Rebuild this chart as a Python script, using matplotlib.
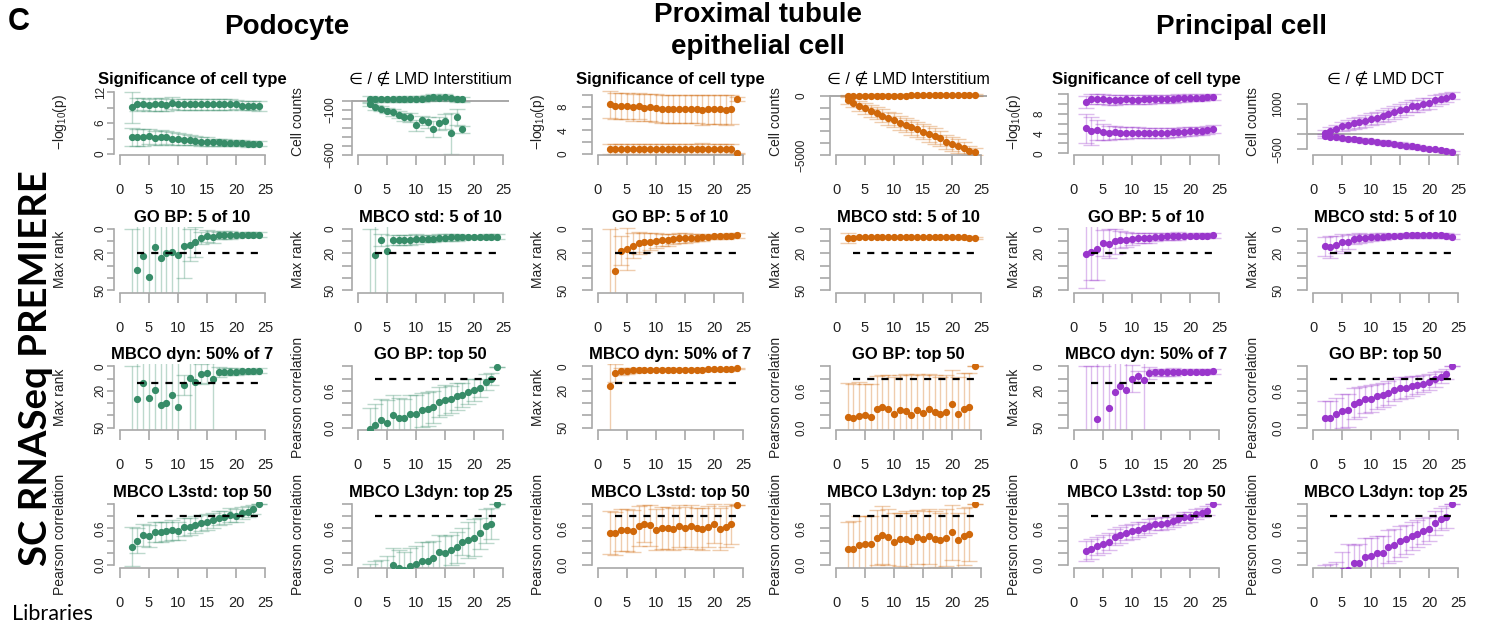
import matplotlib
matplotlib.use("Agg")
import matplotlib.pyplot as plt
import matplotlib.colors as mcolors

plt.rcParams['font.family'] = ['Liberation Sans', 'DejaVu Sans']
plt.rcParams['mathtext.default'] = 'regular'

# ---------------- data ----------------
X = list(range(2, 25))
X_podo_cnt = list(range(2, 19))

# Podocyte
podo_sig_hi = [9.1, 9.6, 9.7, 9.5, 9.6, 9.6, 9.5, 9.9, 9.6, 9.6, 9.6, 9.6, 9.6, 9.6, 9.6, 9.6, 9.6, 9.6, 9.6, 9.4, 9.4, 9.4, 9.3]
podo_sig_hi_err = [3.0, 1.3, 1.2, 1.2, 1.2, 1.2, 1.2, 1.1, 1.1, 1.1, 1.1, 1.0, 1.0, 1.0, 1.0, 1.0, 1.0, 1.0, 0.9, 0.9, 0.9, 0.9, 0.9]
podo_sig_lo = [3.3, 3.2, 3.2, 3.4, 3.1, 3.2, 3.2, 3.0, 2.9, 2.8, 2.7, 2.6, 2.4, 2.4, 2.3, 2.3, 2.2, 2.1, 2.1, 2.1, 2.0, 2.0, 2.0]
podo_sig_lo_err = [1.8, 1.6, 1.6, 1.5, 1.4, 1.4, 1.3, 1.2, 1.1, 1.0, 1.0, 0.9, 0.8, 0.8, 0.7, 0.7, 0.7, 0.6, 0.6, 0.6, 0.6, 0.5, 0.5]
podo_cnt_up = [15, 15, 15, 15, 15, 18, 15, 18, 22, 18, 28, 40, 30, 45, 25, 15, 15]
podo_cnt_up_err = [35, 30, 30, 30, 30, 30, 30, 30, 30, 30, 30, 30, 30, 30, 30, 30, 30]
podo_cnt_lo = [-37, -74, -89, -111, -130, -155, -185, -181, -274, -215, -241, -311, -252, -230, -363, -178, -319]
podo_cnt_lo_err = [25, 25, 30, 30, 35, 40, 45, 50, 60, 50, 60, 90, 70, 80, 225, 90, 40]
podo_go = [60, 33.5, 22, 39, 14.8, 24, 19.8, 19, 21, 14.3, 12.9, 10.7, 7.4, 6.0, 6.9, 5.2, 5.0, 5.0, 5.0, 4.9, 4.9, 4.8, 4.7]
podo_go_err = [60, 60, 60, 60, 60, 60, 60, 60, 60, 26, 13, 12, 5, 5, 5, 3, 3, 3, 2, 2, 2, 2, 2]
podo_mbco = [60, 21, 8.8, 17.9, 8.8, 8.8, 8.8, 8.8, 8.5, 8.0, 8.0, 8.0, 7.1, 7.1, 6.9, 6.9, 6.9, 6.6, 6.6, 6.6, 6.3, 6.3, 6.3]
podo_mbco_err = [60, 60, 5, 60, 4, 4, 4, 4, 4, 3, 3, 3, 3, 3, 3, 3, 2, 2, 2, 2, 2, 2, 2]
podo_dyn = [60, 26.6, 13.7, 26.1, 19.2, 31.6, 29.7, 23.6, 33, 15.1, 9.6, 12.9, 6.0, 5.5, 10.2, 4.7, 4.4, 4.3, 4.2, 4.0, 3.9, 3.8, 3.6]
podo_dyn_err = [60, 60, 60, 60, 60, 60, 60, 60, 60, 8, 60, 60, 8, 8, 60, 4, 3, 3, 3, 2, 2, 2, 2]
podo_gobp50 = [-0.03, 0.04, 0.12, 0.07, 0.2, 0.16, 0.16, 0.23, 0.23, 0.29, 0.30, 0.34, 0.42, 0.45, 0.46, 0.51, 0.53, 0.59, 0.61, 0.65, 0.74, 0.80, 0.99]
podo_gobp50_err = [0.35, 0.35, 0.35, 0.38, 0.33, 0.32, 0.30, 0.30, 0.30, 0.28, 0.28, 0.26, 0.25, 0.25, 0.22, 0.22, 0.20, 0.20, 0.18, 0.15, 0.13, 0.10, 0.0]
podo_l3std = [0.30, 0.40, 0.49, 0.48, 0.54, 0.54, 0.55, 0.57, 0.56, 0.62, 0.63, 0.66, 0.69, 0.71, 0.73, 0.77, 0.78, 0.82, 0.81, 0.85, 0.87, 0.91, 1.0]
podo_l3std_err = [0.32, 0.2, 0.18, 0.18, 0.17, 0.17, 0.16, 0.16, 0.15, 0.15, 0.14, 0.14, 0.13, 0.13, 0.12, 0.12, 0.11, 0.11, 0.1, 0.1, 0.09, 0.08, 0.0]
podo_l3dyn = [-0.2, -0.15, -0.15, -0.12, 0.0, -0.04, -0.08, -0.02, 0.01, 0.07, 0.07, 0.12, 0.22, 0.19, 0.25, 0.29, 0.38, 0.41, 0.45, 0.52, 0.64, 0.68, 1.0]
podo_l3dyn_err = [0.22, 0.22, 0.24, 0.27, 0.28, 0.28, 0.3, 0.3, 0.3, 0.3, 0.3, 0.28, 0.28, 0.28, 0.25, 0.25, 0.22, 0.3, 0.3, 0.25, 0.28, 0.26, 0.0]

# Proximal tubule epithelial cell
pt_sig_hi = [8.5, 8.2, 8.2, 8.2, 8.0, 8.2, 7.9, 8.0, 7.8, 7.7, 7.7, 7.7, 7.6, 7.7, 7.6, 7.6, 7.5, 7.6, 7.6, 7.6, 7.5, 7.6, 9.4]
pt_sig_hi_err = [2.3, 2.3, 2.3, 2.3, 2.3, 2.3, 2.3, 2.3, 2.4, 2.4, 2.4, 2.4, 2.4, 2.4, 2.4, 2.4, 2.5, 2.5, 2.5, 2.5, 2.5, 2.5, 0.3]
pt_sig_lo = [0.8, 0.8, 0.8, 0.8, 0.8, 0.8, 0.8, 0.8, 0.8, 0.85, 0.85, 0.8, 0.85, 0.85, 0.8, 0.85, 0.9, 0.8, 0.85, 0.8, 0.8, 0.8, 0.1]
pt_sig_lo_err = [0.9, 0.9, 0.9, 0.9, 0.9, 0.9, 0.9, 0.9, 0.9, 0.9, 0.9, 0.9, 0.9, 0.9, 0.9, 0.9, 0.9, 0.9, 0.9, 0.9, 0.9, 0.9, 0.1]
pt_cnt_up = [-50, -20, -10, 0, 0, 0, 0, 0, 10, 10, 10, 20, 20, 20, 30, 30, 40, 40, 50, 50, 60, 60, 70]
pt_cnt_up_err = [100, 100, 100, 100, 100, 100, 100, 100, 100, 100, 100, 100, 100, 100, 100, 100, 100, 100, 100, 100, 100, 100, 100]
pt_cnt_lo = [-365, -590, -870, -1070, -1290, -1490, -1710, -1910, -2050, -2275, -2470, -2670, -2840, -3030, -3230, -3400, -3600, -3880, -4070, -4240, -4440, -4630, -4720]
pt_cnt_lo_err = [300, 350, 400, 450, 500, 500, 550, 550, 600, 600, 600, 650, 650, 650, 650, 650, 650, 600, 600, 550, 500, 400, 300]
pt_go = [60, 34.3, 17.9, 16.5, 13.7, 11.5, 11.0, 10.4, 9.6, 8.8, 8.8, 8.2, 7.7, 7.7, 7.4, 7.1, 6.9, 6.6, 6.0, 6.0, 6.0, 5.7, 5.2]
pt_go_err = [60, 60, 12, 17, 10, 9, 8, 7, 6, 5, 5, 4, 4, 4, 3, 3, 3, 2, 2, 2, 2, 2, 2]
pt_mbco = [7.4, 7.0, 6.8, 6.8, 6.8, 6.8, 6.8, 6.8, 6.8, 6.8, 6.8, 6.8, 6.8, 6.8, 6.8, 6.8, 6.8, 6.8, 6.8, 6.9, 6.9, 7.0, 7.2]
pt_mbco_err = [4, 1.5, 1, 1, 1, 1, 1, 1, 1, 1, 1, 1, 1, 1, 1, 1, 1, 1, 1, 1, 1, 1, 1]
pt_dyn = [16.2, 5.4, 4.1, 3.5, 3.2, 2.7, 2.7, 2.7, 2.6, 2.6, 2.6, 2.6, 2.5, 2.5, 2.5, 2.5, 2.5, 2.4, 2.4, 2.4, 2.4, 2.4, 1.4]
pt_dyn_err = [40, 7, 3, 2.5, 2, 1.5, 1.5, 1, 1, 1, 1, 1, 1, 1, 1, 1, 1, 1, 1, 1, 1, 1, 0.5]
pt_gobp50 = [0.18, 0.16, 0.19, 0.20, 0.17, 0.30, 0.34, 0.31, 0.22, 0.28, 0.27, 0.21, 0.28, 0.24, 0.30, 0.26, 0.23, 0.26, 0.38, 0.23, 0.30, 0.34, 1.0]
pt_gobp50_err = [0.55, 0.55, 0.55, 0.52, 0.55, 0.55, 0.52, 0.55, 0.6, 0.58, 0.6, 0.65, 0.6, 0.62, 0.58, 0.6, 0.6, 0.6, 0.57, 0.6, 0.6, 0.55, 0.0]
pt_l3std = [0.53, 0.52, 0.57, 0.57, 0.56, 0.64, 0.68, 0.65, 0.58, 0.61, 0.61, 0.59, 0.64, 0.61, 0.64, 0.60, 0.59, 0.63, 0.68, 0.59, 0.63, 0.67, 0.99]
pt_l3std_err = [0.35, 0.35, 0.34, 0.34, 0.34, 0.33, 0.3, 0.33, 0.34, 0.34, 0.34, 0.34, 0.34, 0.34, 0.34, 0.34, 0.34, 0.34, 0.32, 0.34, 0.34, 0.33, 0.0]
pt_l3dyn = [0.27, 0.26, 0.33, 0.35, 0.34, 0.45, 0.49, 0.46, 0.38, 0.42, 0.43, 0.40, 0.46, 0.42, 0.47, 0.43, 0.41, 0.45, 0.54, 0.41, 0.47, 0.51, 1.0]
pt_l3dyn_err = [0.43, 0.46, 0.47, 0.45, 0.46, 0.45, 0.47, 0.46, 0.47, 0.44, 0.46, 0.45, 0.44, 0.47, 0.45, 0.46, 0.45, 0.46, 0.45, 0.45, 0.47, 0.44, 0.0]

# Principal cell
pc_sig_hi = [10.5, 11.0, 11.0, 11.0, 10.9, 10.9, 10.9, 11.0, 10.9, 10.9, 11.0, 11.0, 11.0, 11.1, 11.1, 11.1, 11.2, 11.2, 11.3, 11.3, 11.3, 11.4, 11.4]
pc_sig_hi_err = [1.2, 1.0, 1.0, 1.0, 1.0, 1.0, 0.9, 0.9, 0.9, 0.9, 0.9, 0.9, 0.8, 0.8, 0.8, 0.8, 0.8, 0.7, 0.7, 0.7, 0.6, 0.6, 0.6]
pc_sig_lo = [5.1, 4.5, 4.7, 4.3, 4.2, 4.3, 4.2, 4.2, 4.2, 4.2, 4.2, 4.2, 4.2, 4.2, 4.2, 4.3, 4.3, 4.4, 4.5, 4.5, 4.6, 4.7, 4.9]
pc_sig_lo_err = [3.0, 2.8, 2.0, 1.6, 1.4, 1.3, 1.2, 1.2, 1.1, 1.1, 1.0, 1.0, 1.0, 1.0, 1.0, 0.9, 0.9, 0.9, 0.9, 0.8, 0.8, 0.8, 0.8]
pc_cnt_up = [55, 120, 163, 272, 304, 359, 391, 446, 511, 533, 598, 663, 728, 793, 848, 935, 935, 1000, 1022, 1120, 1163, 1207, 1272]
pc_cnt_up_err = [100, 120, 140, 150, 160, 170, 180, 190, 200, 200, 200, 210, 210, 210, 210, 200, 200, 190, 180, 170, 160, 150, 120]
pc_cnt_lo = [-54, -76, -98, -120, -141, -163, -185, -207, -228, -250, -272, -293, -315, -337, -370, -402, -424, -446, -478, -500, -533, -554, -587]
pc_cnt_lo_err = [60, 60, 60, 60, 65, 65, 65, 70, 70, 70, 70, 70, 70, 70, 70, 70, 70, 65, 65, 60, 60, 55, 50]
pc_go = [20.6, 19.0, 16.5, 11.5, 12.1, 10.2, 8.8, 8.8, 8.5, 7.7, 7.4, 7.1, 6.6, 6.3, 6.0, 6.0, 5.8, 5.8, 5.7, 5.6, 5.5, 5.4, 5.2]
pc_go_err = [28, 23, 25, 11, 12, 10, 7, 6, 5, 4, 4, 4, 3, 3, 3, 3, 3, 2, 2, 2, 2, 2, 2]
pc_mbco = [14.3, 14.8, 12.9, 11.0, 10.7, 8.0, 7.7, 7.4, 6.9, 6.3, 6.3, 6.0, 5.8, 5.5, 5.2, 5.2, 5.2, 5.2, 5.2, 5.2, 5.2, 5.5, 6.3]
pc_mbco_err = [8, 9, 7, 7, 6, 4, 4, 3, 3, 3, 3, 2, 2, 2, 2, 2, 2, 2, 2, 2, 2, 2, 2]
pc_dyn = [60, 60, 42.7, 60, 33.8, 20.8, 15.7, 19.5, 10.0, 7.6, 11.4, 5.4, 4.9, 4.8, 4.7, 4.6, 4.5, 4.4, 4.3, 4.3, 4.2, 4.2, 4.1]
pc_dyn_err = [60, 60, 60, 60, 60, 60, 60, 60, 11, 4, 60, 5, 3, 3, 3, 3, 2, 2, 2, 2, 2, 2, 2]
pc_gobp50 = [0.15, 0.16, 0.22, 0.27, 0.28, 0.39, 0.42, 0.46, 0.47, 0.51, 0.53, 0.57, 0.61, 0.64, 0.65, 0.68, 0.70, 0.72, 0.74, 0.79, 0.83, 0.88, 1.0]
pc_gobp50_err = [0.28, 0.28, 0.27, 0.28, 0.27, 0.25, 0.24, 0.22, 0.22, 0.2, 0.2, 0.2, 0.18, 0.18, 0.17, 0.16, 0.15, 0.14, 0.13, 0.12, 0.1, 0.08, 0.0]
pc_l3std = [0.23, 0.26, 0.31, 0.34, 0.38, 0.46, 0.49, 0.53, 0.55, 0.58, 0.60, 0.64, 0.67, 0.68, 0.69, 0.72, 0.75, 0.78, 0.79, 0.84, 0.86, 0.89, 1.0]
pc_l3std_err = [0.17, 0.16, 0.15, 0.15, 0.14, 0.13, 0.13, 0.12, 0.12, 0.12, 0.11, 0.11, 0.1, 0.1, 0.1, 0.1, 0.09, 0.09, 0.08, 0.08, 0.07, 0.07, 0.0]
pc_l3dyn = [-0.3, -0.28, -0.2, -0.1, -0.08, 0.03, 0.04, 0.14, 0.15, 0.2, 0.2, 0.3, 0.33, 0.39, 0.42, 0.48, 0.51, 0.56, 0.59, 0.69, 0.75, 0.78, 1.0]
pc_l3dyn_err = [0.3, 0.3, 0.25, 0.32, 0.43, 0.3, 0.3, 0.3, 0.3, 0.28, 0.28, 0.27, 0.26, 0.25, 0.24, 0.23, 0.22, 0.21, 0.2, 0.2, 0.18, 0.18, 0.0]

# thresholds
rank_threshold = 20
dyn_threshold = 13.5
corr_threshold = 0.8

# text
group_titles = ["Podocyte", "Proximal tubule\nepithelial cell", "Principal cell"]
cell_colors = ["#378C68", "#D0680A", "#9A36CC"]
lmd_titles = ["\u2208 / \u2209 LMD Interstitium", "\u2208 / \u2209 LMD Interstitium", "\u2208 / \u2209 LMD DCT"]
x_ticks = [0, 5, 10, 15, 20, 25]

# ---------------- axis styles ----------------
SIG_AX = {
    0: dict(ylim=(-0.2, 12.6), ticks=[0, 3, 6, 9, 12], labels=['0', '', '6', '', '12']),
    1: dict(ylim=(-0.2, 11.1), ticks=[0, 2, 4, 6, 8, 10], labels=['0', '', '4', '', '8', '']),
    2: dict(ylim=(-0.35, 13.1), ticks=[0, 2, 4, 6, 8, 10, 12], labels=['0', '', '4', '', '8', '', '']),
}
CNT_AX = {
    0: dict(ylim=(-603, 130), ticks=[-600, -500, -400, -300, -200, -100, 0],
            labels=['\u2212600', '', '', '', '', '\u2212100', '']),
    1: dict(ylim=(-5000, 560), ticks=[-5000, -4000, -3000, -2000, -1000, 0],
            labels=['\u22125000', '', '', '', '', '0']),
    2: dict(ylim=(-683, 1495), ticks=[-500, 0, 500, 1000], labels=['\u2212500', '', '', '1000']),
}
RANK_AX = dict(ylim=(52, -2), ticks=[0, 10, 20, 30, 40, 50], labels=['0', '', '20', '', '', '50'])
CORR_AX = dict(ylim=(-0.04, 1.04), ticks=[0, 0.2, 0.4, 0.6, 0.8, 1.0], labels=['0.0', '', '', '0.6', '', ''])

W, H = 1485, 624
fig = plt.figure(figsize=(W / 100, H / 100), dpi=100)

X0 = [120, 358, 598, 836, 1074, 1313]
PXU = 5.8
TOPS = [89, 226.5, 364, 501.5]
PH = 66
AXIS_GRAY = '#a8a8a8'
TXT = '#222222'


def make_ax(col, row):
    left = X0[col] - PXU
    width = 27 * PXU
    top = TOPS[row]
    return fig.add_axes([left / W, 1 - (top + PH) / H, width / W, PH / H])


def style(ax, col, axdef, title, ylabel, bold=True):
    ax.set_xlim(-1, 26)
    ax.set_ylim(*axdef['ylim'])
    for s in ['top', 'right']:
        ax.spines[s].set_visible(False)
    for s in ['left', 'bottom']:
        ax.spines[s].set_color(AXIS_GRAY)
        ax.spines[s].set_linewidth(1.2)
    ax.spines['bottom'].set_bounds(0, 25)
    t = axdef['ticks']
    ax.spines['left'].set_bounds(min(t), max(t))
    ax.set_xticks(x_ticks)
    ax.set_xticklabels([str(v) for v in x_ticks])
    ax.set_yticks(t)
    ax.set_yticklabels(axdef['labels'])
    ylen = 5 if col == 0 else 7.5
    ypad = [0.5, 4, 9, 9, 9, 9][col]
    ax.tick_params(axis='x', length=7.5, width=1.2, color=AXIS_GRAY, labelsize=10.5,
                   pad=13, labelcolor=TXT)
    ax.tick_params(axis='y', length=ylen, width=1.2, color=AXIS_GRAY, labelsize=8.5,
                   pad=ypad, labelcolor=TXT, labelrotation=90)
    for lab in ax.get_yticklabels():
        lab.set_va('center')
    ax.set_title(title, fontsize=12 if bold else 11.5, fontweight='bold' if bold else 'normal',
                 pad=3.5, color='black')
    ax.text(-54.5 / (27 * PXU), 0.5, ylabel, transform=ax.transAxes, rotation=90,
            ha='center', va='center', fontsize=10, color=TXT)
    ax.patch.set_alpha(0)


def draw(ax, x, y, err, color):
    rgba = mcolors.to_rgba(color, 0.33)
    ax.errorbar(x, y, yerr=err, fmt='none', ecolor=rgba, elinewidth=1.0,
                capsize=6, capthick=1.0, zorder=2)
    ax.plot(x, y, 'o', color=color, ms=4.2, mec=color, zorder=3)


def dashed(ax, v):
    ax.plot([3, 25], [v, v], color='black', lw=1.6, dashes=(3.2, 3.2), zorder=4)


LOG_LABEL = r'$-log_{10}(p)$'

sets = [
    dict(sig=(podo_sig_hi, podo_sig_hi_err, podo_sig_lo, podo_sig_lo_err),
         cnt=(X_podo_cnt, podo_cnt_up, podo_cnt_up_err, podo_cnt_lo, podo_cnt_lo_err),
         go=(podo_go, podo_go_err), mbco=(podo_mbco, podo_mbco_err), dyn=(podo_dyn, podo_dyn_err),
         gobp50=(podo_gobp50, podo_gobp50_err), l3std=(podo_l3std, podo_l3std_err),
         l3dyn=(podo_l3dyn, podo_l3dyn_err)),
    dict(sig=(pt_sig_hi, pt_sig_hi_err, pt_sig_lo, pt_sig_lo_err),
         cnt=(X, pt_cnt_up, pt_cnt_up_err, pt_cnt_lo, pt_cnt_lo_err),
         go=(pt_go, pt_go_err), mbco=(pt_mbco, pt_mbco_err), dyn=(pt_dyn, pt_dyn_err),
         gobp50=(pt_gobp50, pt_gobp50_err), l3std=(pt_l3std, pt_l3std_err),
         l3dyn=(pt_l3dyn, pt_l3dyn_err)),
    dict(sig=(pc_sig_hi, pc_sig_hi_err, pc_sig_lo, pc_sig_lo_err),
         cnt=(X, pc_cnt_up, pc_cnt_up_err, pc_cnt_lo, pc_cnt_lo_err),
         go=(pc_go, pc_go_err), mbco=(pc_mbco, pc_mbco_err), dyn=(pc_dyn, pc_dyn_err),
         gobp50=(pc_gobp50, pc_gobp50_err), l3std=(pc_l3std, pc_l3std_err),
         l3dyn=(pc_l3dyn, pc_l3dyn_err)),
]

for g, d in enumerate(sets):
    color = cell_colors[g]
    cl, cr = 2 * g, 2 * g + 1
    # row 0 left: significance
    ax = make_ax(cl, 0)
    style(ax, cl, SIG_AX[g], "Significance of cell type", LOG_LABEL)
    hi, hie, lo, loe = d['sig']
    draw(ax, X, hi, hie, color)
    draw(ax, X, lo, loe, color)
    # row 0 right: cell counts
    ax = make_ax(cr, 0)
    style(ax, cr, CNT_AX[g], lmd_titles[g], "Cell counts", bold=False)
    ax.axhline(0, color='#9a9a9a', lw=1.2, zorder=1)
    xc, up, upe, lw_, lwe = d['cnt']
    draw(ax, xc, up, upe, color)
    draw(ax, xc, lw_, lwe, color)
    # row 1
    ax = make_ax(cl, 1)
    style(ax, cl, RANK_AX, "GO BP: 5 of 10", "Max rank")
    dashed(ax, rank_threshold)
    draw(ax, X, *d['go'], color)
    ax = make_ax(cr, 1)
    style(ax, cr, RANK_AX, "MBCO std: 5 of 10", "Max rank")
    dashed(ax, rank_threshold)
    draw(ax, X, *d['mbco'], color)
    # row 2
    ax = make_ax(cl, 2)
    style(ax, cl, RANK_AX, "MBCO dyn: 50% of 7", "Max rank")
    dashed(ax, dyn_threshold)
    draw(ax, X, *d['dyn'], color)
    ax = make_ax(cr, 2)
    style(ax, cr, CORR_AX, "GO BP: top 50", "Pearson correlation")
    dashed(ax, corr_threshold)
    draw(ax, X, *d['gobp50'], color)
    # row 3
    ax = make_ax(cl, 3)
    style(ax, cl, CORR_AX, "MBCO L3std: top 50", "Pearson correlation")
    dashed(ax, corr_threshold)
    draw(ax, X, *d['l3std'], color)
    ax = make_ax(cr, 3)
    style(ax, cr, CORR_AX, "MBCO L3dyn: top 25", "Pearson correlation")
    dashed(ax, corr_threshold)
    draw(ax, X, *d['l3dyn'], color)

# group titles
title_x = [287, 758, 1242]
title_y = [27, 31, 27]
for t, x, y in zip(group_titles, title_x, title_y):
    fig.text(x / W, 1 - y / H, t, ha='center', va='center', fontsize=20,
             fontweight='bold', linespacing=1.3)

fig.text(19 / W, 1 - 22 / H, "C", ha='center', va='center', fontsize=22, fontweight='bold')
fig.text(36 / W, 1 - 368 / H, "SC RNASeq PREMIERE", rotation=90, ha='center', va='center',
         fontsize=27.5, fontweight='bold', family=['Lato', 'DejaVu Sans'])
fig.text(12 / W, 1 - 614 / H, "Libraries", ha='left', va='center', fontsize=15.5,
         family=['Lato', 'DejaVu Sans'])

fig.savefig("out.png", dpi=100)
